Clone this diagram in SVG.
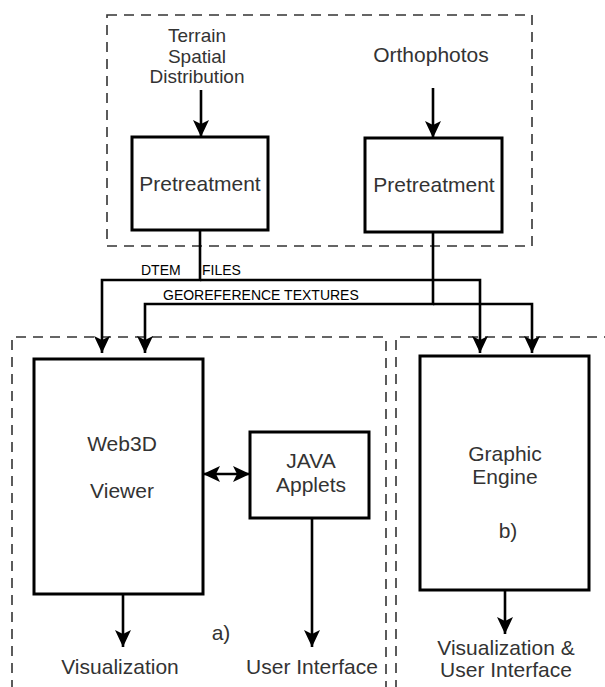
<svg xmlns="http://www.w3.org/2000/svg" width="605" height="687" viewBox="0 0 605 687">
<style>
.dash{fill:none;stroke:#333;stroke-width:1.6;stroke-dasharray:10 7}
.box{fill:#fff;stroke:#000;stroke-width:3}
.con{fill:none;stroke:#000;stroke-width:2.6}
.arr{marker-end:url(#ah)}
.t{font-family:"Liberation Sans",Arial,sans-serif;font-size:21px;fill:#333;text-anchor:middle}
.s{font-family:"Liberation Sans",Arial,sans-serif;font-size:14px;fill:#000}
</style>
<defs>
<marker id="ah" viewBox="0 0 17 16" refX="17" refY="8" markerWidth="17" markerHeight="16" markerUnits="userSpaceOnUse" orient="auto-start-reverse">
<path d="M17,8 L0,0 L4,8 L0,16 Z" fill="#000"/>
</marker>
</defs>
<rect width="605" height="687" fill="#fff"/>
<g id="groups">
<rect class="dash" x="107" y="15" width="425" height="231"/>
<path class="dash" d="M12,690 V337 H386 V690"/>
<path class="dash" d="M396,690 V337 H610"/>
</g>
<g id="connectors">
<path class="con arr" d="M201,90 V137"/>
<path class="con arr" d="M433,88 V138"/>
<path class="con arr" d="M200,230 V280 H102 V353"/>
<path class="con arr" d="M200,280 H480 V353"/>
<path class="con arr" d="M433,232 V304 H145 V353"/>
<path class="con arr" d="M433,304 H532 V353"/>
<path class="con" d="M203,474 H250" marker-start="url(#ah)" marker-end="url(#ah)"/>
<path class="con arr" d="M123,594 V647"/>
<path class="con arr" d="M312,518 V647"/>
<path class="con arr" d="M505,590 V634"/>
</g>
<g id="terrain">
<text class="t" style="font-size:19px" x="197" y="42">Terrain</text>
<text class="t" style="font-size:19px" x="197" y="63">Spatial</text>
<text class="t" style="font-size:19px" x="197" y="83">Distribution</text>
</g>
<g id="orthophotos"><text class="t" x="431" y="62">Orthophotos</text></g>
<g id="pretreatment1">
<rect class="box" x="132" y="137" width="136" height="93"/>
<text class="t" x="200" y="191">Pretreatment</text>
</g>
<g id="pretreatment2">
<rect class="box" x="365" y="138" width="137" height="94"/>
<text class="t" x="434" y="192">Pretreatment</text>
</g>
<g id="labels">
<text class="s" x="141" y="275">DTEM</text>
<text class="s" x="202" y="275">FILES</text>
<text class="s" x="163" y="300">GEOREFERENCE TEXTURES</text>
</g>
<g id="web3d">
<rect class="box" x="34" y="359" width="169" height="235"/>
<text class="t" x="122" y="451">Web3D</text>
<text class="t" x="122" y="498">Viewer</text>
</g>
<g id="java">
<rect class="box" x="250" y="432" width="119" height="86"/>
<text class="t" x="311" y="468">JAVA</text>
<text class="t" x="311" y="492">Applets</text>
</g>
<g id="graphic">
<rect class="box" x="420" y="356" width="169" height="234"/>
<text class="t" x="505" y="461">Graphic</text>
<text class="t" x="505" y="484">Engine</text>
<text class="t" x="508" y="538">b)</text>
</g>
<g id="outputs">
<text class="t" x="120" y="674">Visualization</text>
<text class="t" x="312" y="674">User Interface</text>
<text class="t" x="221" y="640">a)</text>
<text class="t" x="506" y="655">Visualization &amp;</text>
<text class="t" x="506" y="677">User Interface</text>
</g>
</svg>
